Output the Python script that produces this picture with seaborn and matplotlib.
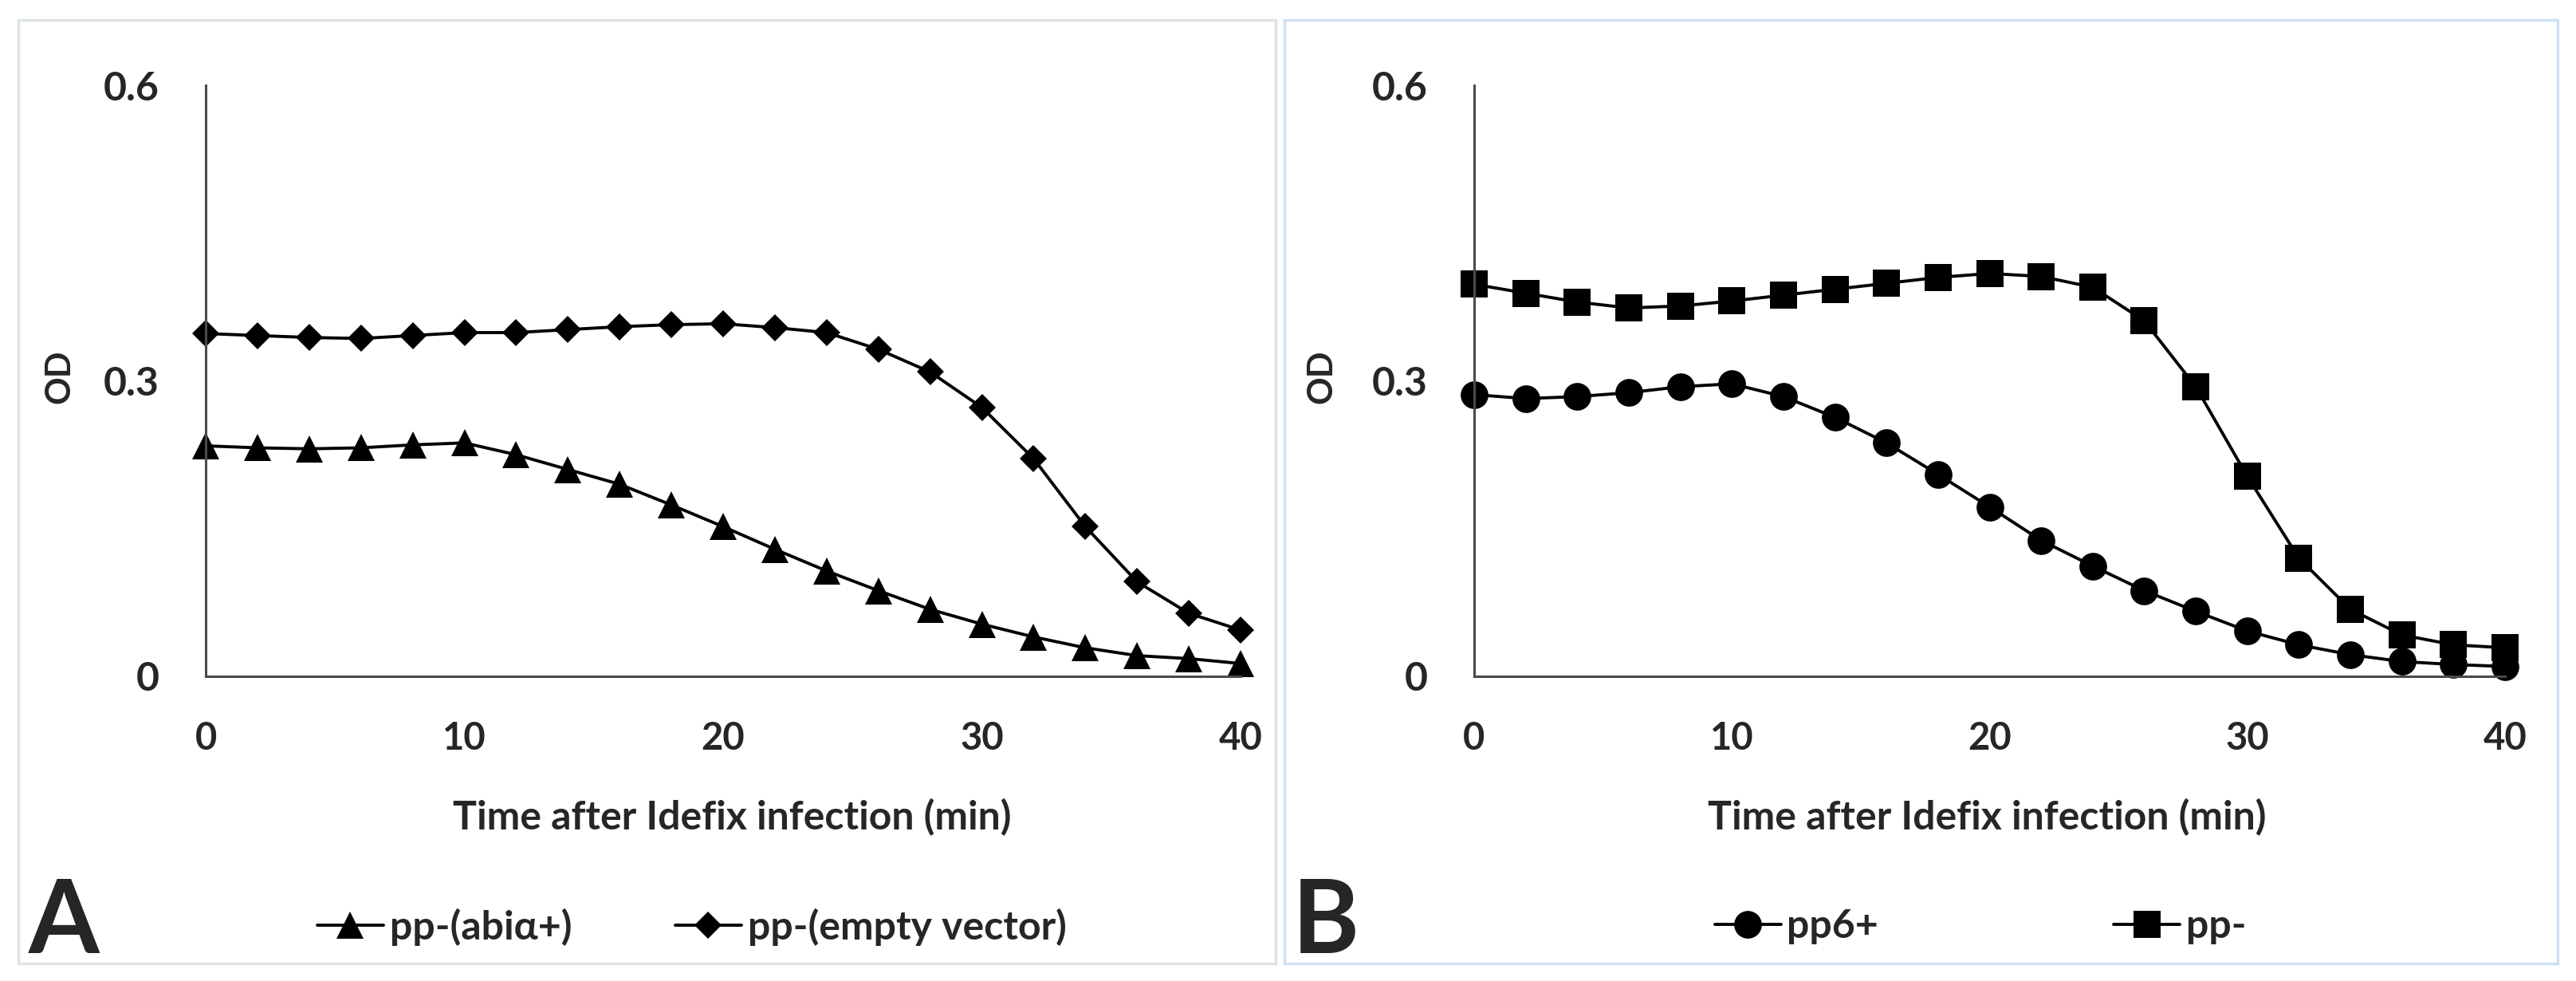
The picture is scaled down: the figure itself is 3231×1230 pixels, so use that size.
import matplotlib
matplotlib.use("Agg")
import matplotlib.pyplot as plt
import seaborn as sns
from matplotlib.patches import Rectangle

# time points (min)
minutes = list(range(0, 41, 2))

# panel A
abia_plus = [0.234, 0.232, 0.231, 0.232, 0.235, 0.237, 0.225, 0.210, 0.195, 0.174, 0.152,
             0.129, 0.107, 0.087, 0.068, 0.053, 0.040, 0.029, 0.021, 0.018, 0.013]
empty_vector = [0.348, 0.346, 0.344, 0.343, 0.346, 0.349, 0.349, 0.352, 0.355, 0.357, 0.358,
                0.354, 0.349, 0.332, 0.309, 0.273, 0.221, 0.152, 0.096, 0.064, 0.047]

# panel B
pp6_plus = [0.286, 0.282, 0.284, 0.288, 0.294, 0.297, 0.284, 0.263, 0.237, 0.205, 0.172,
            0.138, 0.112, 0.087, 0.066, 0.046, 0.032, 0.022, 0.015, 0.012, 0.010]
pp_minus = [0.398, 0.389, 0.380, 0.374, 0.376, 0.381, 0.387, 0.393, 0.399, 0.405, 0.409,
            0.406, 0.395, 0.361, 0.294, 0.203, 0.120, 0.068, 0.042, 0.032, 0.029]

x_ticks = [0, 10, 20, 30, 40]
y_ticks = [0, 0.3, 0.6]
y_ticklabels = ["0", "0.3", "0.6"]
x_title = "Time after Idefix infection (min)"
y_title = "OD"

sns.set_style("white")
plt.rcParams["font.family"] = ["Lato", "DejaVu Sans"]
plt.rcParams["font.weight"] = "bold"

W, H = 3231, 1230
fig = plt.figure(figsize=(W / 100, H / 100), dpi=100)

panels = [
    dict(left=258, right=1556, series=[(abia_plus, "^", 24, "pp-(abiα+)"),
                                      (empty_vector, "D", 17, "pp-(empty vector)")],
         letter="A", letter_x=36, leg_x=398, colspace=2.6, ylab_x=74, xlab_x=918,
         box=(23, 1600), box_color="#dde3e6"),
    dict(left=1849, right=3142, series=[(pp6_plus, "o", 25, "pp6+"),
                                       (pp_minus, "s", 25, "pp-")],
         letter="B", letter_x=1621, leg_x=2151, colspace=5.9, ylab_x=1657, xlab_x=2492,
         box=(1611, 3208), box_color="#cfe0f2"),
]

top, bottom = 107, 848
for p in panels:
    ax = fig.add_axes([p["left"] / W, 1 - bottom / H,
                       (p["right"] - p["left"]) / W, (bottom - top) / H])
    for vals, mk, ms, lab in p["series"]:
        sns.lineplot(x=minutes, y=vals, ax=ax, color="black", marker=mk,
                     markersize=ms, markeredgewidth=0, linewidth=2.8,
                     label=lab, clip_on=False)
    ax.set_xlim(0, 40)
    ax.set_ylim(0, 0.6)
    ax.set_xticks(x_ticks)
    ax.set_yticks(y_ticks, labels=y_ticklabels)
    ax.tick_params(axis="both", length=0)
    ax.tick_params(axis="x", pad=40, labelsize=34)
    ax.tick_params(axis="y", pad=42, labelsize=36)
    for t in ax.get_xticklabels() + ax.get_yticklabels():
        t.set_fontweight("bold")
    for side in ["top", "right"]:
        ax.spines[side].set_visible(False)
    for side in ["left", "bottom"]:
        ax.spines[side].set_color("#4a4a4a")
        ax.spines[side].set_linewidth(2.2)
    ax.set_xlabel(x_title, fontsize=36, fontweight="bold", va="center")
    ax.xaxis.set_label_coords((p["xlab_x"] - p["left"]) / (p["right"] - p["left"]),
                              (bottom - 1025) / (bottom - top))
    ax.set_ylabel(y_title, fontsize=31, fontweight="bold", va="center")
    ax.yaxis.set_label_coords((p["ylab_x"] - p["left"]) / (p["right"] - p["left"]),
                              (bottom - 472) / (bottom - top))

    handles, labels = ax.get_legend_handles_labels()
    ax.legend(handles, labels, loc="center left", ncol=2,
              bbox_to_anchor=(p["leg_x"] / W, 1 - 1162 / H),
              bbox_transform=fig.transFigure, frameon=False, borderpad=0,
              borderaxespad=0, handlelength=1.65, handletextpad=0.16,
              columnspacing=p["colspace"], prop={"size": 36, "weight": "bold"})

    fig.text(p["letter_x"] / W, 1 - 1195 / H, p["letter"], fontsize=92,
             fontweight="bold", ha="left", va="baseline")

    x0, x1 = p["box"]
    fig.add_artist(Rectangle((x0 / W, 1 - 1208 / H), (x1 - x0) / W, (1208 - 25) / H,
                             transform=fig.transFigure, fill=False,
                             edgecolor=p["box_color"], linewidth=2.5))

fig.savefig("out.png", dpi=100, facecolor="white")
